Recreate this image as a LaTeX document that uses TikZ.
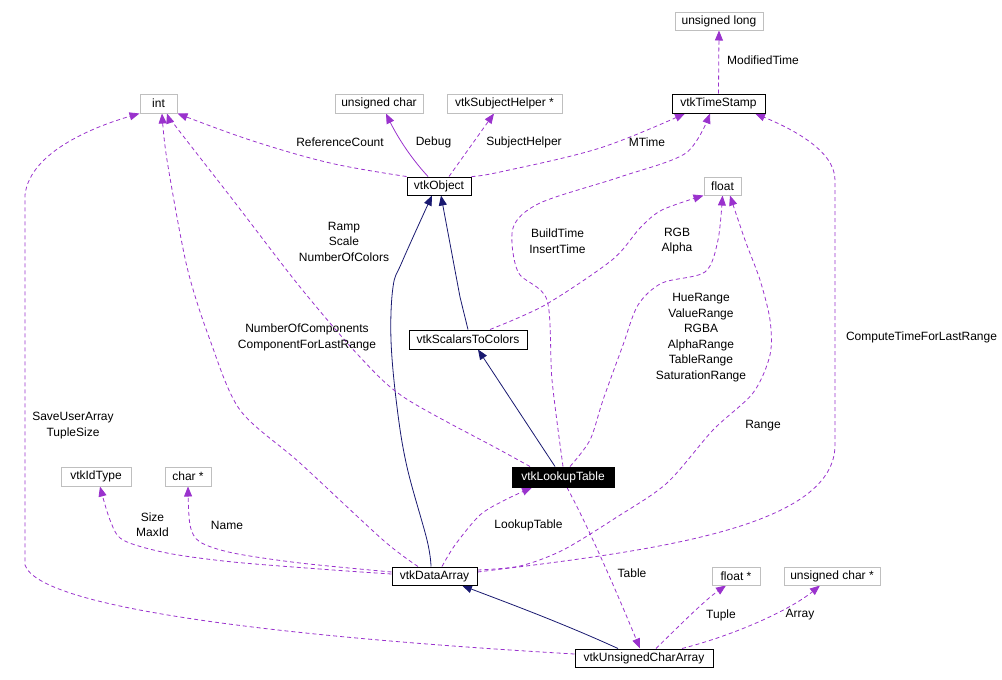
\documentclass[tikz,border=0pt]{standalone}
\usepackage{fontspec}
\setmainfont{Liberation Sans}
\usetikzlibrary{arrows.meta,backgrounds}
\definecolor{edgepurple}{HTML}{9A32CD}
\definecolor{inhblue}{HTML}{191970}
\definecolor{typegray}{HTML}{BFBFBF}
\begin{document}
\begin{tikzpicture}[x=1pt,y=-1pt,
  every node/.style={font=\fontsize{12}{15.5}\selectfont, inner sep=0pt},
  cls/.style={draw=black, line width=1pt, fill=white, text=black},
  typ/.style={draw=typegray, line width=1pt, fill=white, text=black},
  cur/.style={draw=black, line width=1pt, fill=black, text=white},
  lbl/.style={align=center, text=black},
  use/.style={draw=edgepurple, line width=0.8pt, dash pattern=on 4pt off 3pt, -{Triangle[length=10pt,width=8pt]}},
  usesolid/.style={draw=edgepurple, line width=0.8pt, -{Triangle[length=10pt,width=8pt]}},
  inh/.style={draw=inhblue, line width=0.8pt, -{Triangle[length=10pt,width=8pt]}},
]
\useasboundingbox (0,0) rectangle (1002,680);

% nodes
\node[typ, minimum width=37pt, minimum height=19pt] (int) at (158.5,103.5) {int};
\node[typ, minimum width=88pt, minimum height=19pt] (uchar) at (379,103.5) {unsigned char};
\node[typ, minimum width=115pt, minimum height=19pt] (subj) at (504.5,103.5) {vtkSubjectHelper *};
\node[typ, minimum width=88pt, minimum height=18pt] (ulong) at (719,21) {unsigned long};
\node[cls, minimum width=93pt, minimum height=19pt] (ts) at (718.5,103.5) {vtkTimeStamp};
\node[cls, minimum width=64pt, minimum height=18pt] (obj) at (439,186) {vtkObject};
\node[typ, minimum width=37pt, minimum height=18pt] (float) at (722.5,186) {float};
\node[cls, minimum width=118pt, minimum height=19pt] (s2c) at (468,339.5) {vtkScalarsToColors};
\node[cur, minimum width=102pt, minimum height=20pt] (lut) at (563,477) {vtkLookupTable};
\node[typ, minimum width=70pt, minimum height=19pt] (idt) at (96,476.5) {vtkIdType};
\node[typ, minimum width=46pt, minimum height=19pt] (charp) at (188,476.5) {char *};
\node[cls, minimum width=85pt, minimum height=18pt] (da) at (434.5,576) {vtkDataArray};
\node[typ, minimum width=48pt, minimum height=18pt] (floatp) at (736,576) {float *};
\node[typ, minimum width=96pt, minimum height=18pt] (ucharp) at (832,576) {unsigned char *};
\node[cls, minimum width=138pt, minimum height=18pt] (uca) at (644,658) {vtkUnsignedCharArray};

\begin{scope}[on background layer]
% inheritance edges
\draw[inh] plot[smooth, tension=0.6] coordinates {([xshift=-3.5pt]da.north) (427,540) (407,467) (397,407) (391,340) (393,287) (402,262) ([xshift=-7pt]obj.south)};
\draw[inh] (s2c.north) -- (460,297) -- ([xshift=2pt]obj.south);
\draw[inh] ([xshift=-8pt]lut.north) -- ([xshift=10pt]s2c.south);
\draw[inh] ([xshift=-26pt]uca.north) .. controls (560,622) and (500,600) .. ([xshift=27.5pt]da.south);

% usage edges
\draw[use] plot[smooth, tension=0.6] coordinates {(obj.north west) (330,163) (250,140) (int.south east)};
\draw[usesolid] ([xshift=-11pt]obj.north) .. controls (408,155) and (395,132) .. ([xshift=7pt]uchar.south);
\draw[use] ([xshift=10pt]obj.north) -- ([xshift=-10.5pt]subj.south);
\draw[use] plot[smooth, tension=0.6] coordinates {(obj.north east) (500,172) (600,148) ([xshift=-33.5pt]ts.south)};
\draw[use] (ts.north) -- (ulong.south);
\draw[use] plot[smooth, tension=0.5] coordinates {(lut.north) (552,380) (547,300) (518,272) (513,228) (540,203) (620,177) (686,153) ([xshift=-8.5pt]ts.south)};
\draw[use] plot[smooth, tension=0.5] coordinates {([xshift=22pt]s2c.north) (545,305) (612,260) (640,228) (662,210) (float.south west)};
\draw[use] plot[smooth, tension=0.5] coordinates {([xshift=7pt]lut.north) (590,440) (603,400) (623,345) (638,305) (662,283) (705,272) (718,240) (float.south)};
\draw[use] plot[smooth, tension=0.5] coordinates {([yshift=6pt]da.east) (520,566) (563,550) (617,517) (667,483) (713,430) (753,393) (770,355) (770,320) (760,280) (745,240) ([xshift=7.5pt]float.south)};
\draw[use] ([yshift=4pt]da.east) .. controls (640,552) and (835,530) .. (835,445) -- (835,180) .. controls (835,150) and (790,128) .. ([xshift=36.5pt]ts.south);
\draw[use] plot[smooth, tension=0.5] coordinates {([xshift=-33pt]lut.north) (500,450) (405,398) (360,357) (300,287) (233,200) (177,128) ([xshift=8.5pt]int.south)};
\draw[use] plot[smooth, tension=0.5] coordinates {([xshift=-16.5pt]da.north) (383,540) (300,463) (240,410) (210,340) (187,267) (167,160) ([xshift=3.5pt]int.south)};
\draw[use] ([yshift=4pt]uca.west) .. controls (300,638) and (40,610) .. (25,565) -- (25,195) .. controls (30,150) and (100,125) .. (int.south west);
\draw[use] plot[smooth, tension=0.5] coordinates {([yshift=2pt]da.west) (333,570) (233,562) (167,553) (123,540) (110,520) ([xshift=4pt]idt.south)};
\draw[use] plot[smooth, tension=0.5] coordinates {([yshift=4pt]da.west) (300,563) (233,553) (200,542) (190,525) (charp.south)};
\draw[use] plot[smooth, tension=0.5] coordinates {([xshift=7.5pt]da.north) (455,545) (480,515) (505,500) ([xshift=-31pt]lut.south)};
\draw[use] ([xshift=4pt]lut.south) .. controls (590,530) and (620,600) .. ([xshift=-4pt]uca.north);
\draw[use] ([xshift=12pt]uca.north) .. controls (680,625) and (705,600) .. ([xshift=-10pt]floatp.south);
\draw[use] ([xshift=38pt]uca.north) .. controls (735,635) and (790,610) .. ([xshift=-12pt]ucharp.south);
\end{scope}

% labels
\node[lbl] (lmod) at (763,60) {ModifiedTime};
\node[lbl] (lref) at (340,142) {ReferenceCount};
\node[lbl] (ldbg) at (433.5,142) {Debug};
\node[lbl] (lsub) at (524,142) {SubjectHelper};
\node[lbl] (lmt) at (647,142) {MTime};
\node[lbl] (lramp) at (344,241.7) {Ramp\\Scale\\NumberOfColors};
\node[lbl] (lbuild) at (557.5,241.3) {BuildTime\\InsertTime};
\node[lbl] (lrgb) at (677,241.3) {RGB\\Alpha};
\node[lbl] (lhue) at (701,337.7) {HueRange\\ValueRange\\RGBA\\AlphaRange\\TableRange\\SaturationRange};
\node[lbl] (lnoc) at (307,337.5) {NumberOfComponents\\ComponentForLastRange};
\node[lbl] (lct) at (921.5,337) {ComputeTimeForLastRange};
\node[lbl] (lsave) at (73,425.7) {SaveUserArray\\TupleSize};
\node[lbl] (lsize) at (152.5,524.7) {Size\\MaxId};
\node[lbl] (lname) at (227,525) {Name};
\node[lbl] (llut) at (528.5,525) {LookupTable};
\node[lbl] (lrange) at (763,426) {Range};
\node[lbl] (ltable) at (632,573.3) {Table};
\node[lbl] (ltuple) at (721,615) {Tuple};
\node[lbl] (larray) at (800,615) {Array};
\end{tikzpicture}
\end{document}
